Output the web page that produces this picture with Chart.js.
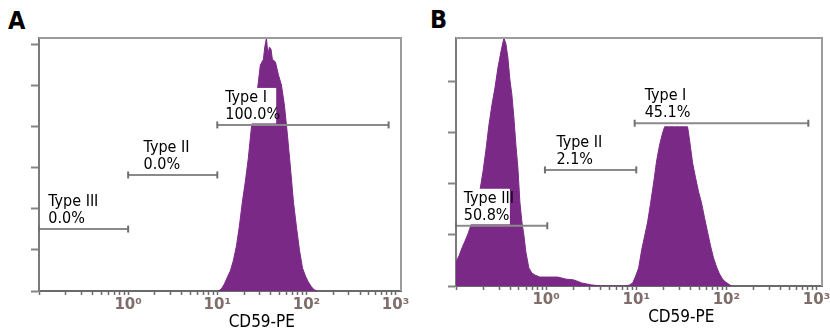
<!DOCTYPE html>
<html><head><meta charset="utf-8">
<script src="https://cdn.jsdelivr.net/npm/chart.js@4.4.1/dist/chart.umd.min.js"></script>
<style>
html,body{margin:0;padding:0;background:#fff;overflow:hidden;width:830px;height:333px;position:relative;}
canvas.panel{position:absolute;top:0;}
.letter{position:absolute;font:bold 25px "DejaVu Sans Condensed","DejaVu Sans",sans-serif;line-height:25px;color:#000;}
</style></head><body>
<div class="letter" style="left:8px;top:8px">A</div>
<div class="letter" style="left:430px;top:7px">B</div>
<canvas id="cA" class="panel" width="415" height="333" style="left:0"></canvas>
<canvas id="cB" class="panel" width="430" height="333" style="left:415px"></canvas>
<script>
// ---------- data ----------
const tickExps = [0, 1, 2, 3];
const tickLabels = ['10\u2070', '10\u00B9', '10\u00B2', '10\u00B3'];
const xTitle = 'CD59-PE';
const xTitleAt = 31.6;
const xMin = 0.1, xMax = 1150;
const gateNames = ['Type III', 'Type II', 'Type I'];

// Panel A histogram (CD59-PE intensity, counts)
const histAx = [10.3,11.1,12.0,13.0,14.0,15.1,16.4,17.7,19.1,20.6,22.3,24.1,26.1,28.2,30.4,32.9,34.1,35.6,37.0,38.4,40.0,41.5,44.9,48.5,52.4,56.6,61.2,66.2,71.5,77.3,83.5,90.3,97.5,105,114,123,133];
const histAy = [0,1.0,3.4,6.8,9.8,14.6,22.0,31.7,43.4,53.2,64.9,79.5,88.3,98.0,110.2,113,119,123.4,115,119,118,113,111.7,105.4,100.5,90.7,76.1,60.0,43.4,31.2,20.0,11.2,7.3,4.4,2.0,0.5,0];
const gateAstart = [0.1, 1, 10];
const gateAend = [1, 10, 835];
const gateAy = [30.2, 56.6, 81.0];
const pctA = ['0.0%', '0.0%', '100.0%'];
const labelAx = [0.127, 1.49, 12.3];
const yTicksA = [0, 20, 40, 60, 80, 100, 120];
const yMaxA = 123.4;

// Panel B histogram
const histBx = [0.1,0.108,0.1165,0.1258,0.1358,0.1466,0.1582,0.1709,0.1845,0.1991,0.2149,0.2320,0.2505,0.2704,0.2919,0.3151,0.3401,0.3579,0.3767,0.3964,0.4171,0.4389,0.4619,0.4860,0.5114,0.5382,0.5663,0.5959,0.643,0.694,0.7499,0.8515,1.044,1.348,1.653,2.027,2.485,3.206,4.139,5.77,7.45,8.46,9.13,9.85,10.63,11.48,12.39,13.37,14.43,15.58,16.82,18.15,19.59,20.63,23.44,26.63,30.26,34.38,37.10,38.99,42.15,45.50,49.12,53.02,57.23,61.77,66.68,71.97,77.69,83.86,90.52,97.71,105.5,113.8];
const histBy = [9.4,11.8,14.9,17.6,20.4,23.9,28.2,32.9,37.6,44.7,53.3,63.1,71.0,77.6,85.5,91.8,97.2,94.9,89.4,80.8,74.9,65.9,55.3,46.3,32.9,25.1,20.0,13.3,7.1,5.1,4.3,3.5,3.5,3.5,2.7,2.4,1.2,0.4,0,0,0,0.4,1.2,3.9,7.1,14.1,19.6,25.1,32.5,40.4,49.0,55.3,60.0,62.4,62.4,62.4,62.4,62.4,62.4,57.3,48.2,42.4,36.9,32.5,26.7,21.2,15.7,11.0,7.5,4.7,2.7,1.6,0.8,0];
const gateBstart = [0.1, 0.97, 9.6];
const gateBend = [1.03, 10, 811];
const gateBy = [23.6, 45.5, 63.8];
const pctB = ['50.8%', '2.1%', '45.1%'];
const labelBx = [0.122, 1.30, 12.4];
const yTicksB = [0, 20, 40, 60, 80];
const yMaxB = 97.2;

// ---------- styling ----------
const PURPLE = '#7b2987';
const TXT_FONT = '16px "DejaVu Sans Condensed", "DejaVu Sans", sans-serif';
const TITLE_FONT = '17px "DejaVu Sans Condensed", "DejaVu Sans", sans-serif';

const xTickValues = [];
for (let e = -1; e <= 2; e++) for (let m = 1; m <= 9; m++) xTickValues.push(+(m * Math.pow(10, e)).toPrecision(3));
xTickValues.push(1000);

const overlay = {
  id: 'overlay',
  afterDatasetsDraw(chart, args, o) {
    const xs = chart.scales.x, ys = chart.scales.y, ctx = chart.ctx;
    ctx.save();
    ctx.font = TXT_FONT;
    ctx.textAlign = 'left';
    ctx.textBaseline = 'alphabetic';
    o.labelX.forEach((lx, i) => {
      const px = xs.getPixelForValue(lx);
      const gy = ys.getPixelForValue(o.gateY[i]);
      const b2 = gy - 6, b1 = b2 - 17;
      const w = Math.max(ctx.measureText(gateNames[i]).width, ctx.measureText(o.pct[i]).width);
      const bx = xs.getPixelForValue(o.gateStart[i]) + 1.5;
      ctx.fillStyle = '#fff';
      ctx.fillRect(bx, b1 - 14, px + w - 4 - bx, (gy - 1.5) - (b1 - 14));
      ctx.fillStyle = '#000';
      ctx.fillText(gateNames[i], px, b1);
      ctx.fillText(o.pct[i], px, b2);
    });
    ctx.restore();
  },
  afterDraw(chart) {
    const a = chart.chartArea, ctx = chart.ctx, xs = chart.scales.x;
    ctx.save();
    ctx.strokeStyle = '#9c9c9c';
    ctx.lineWidth = 2;
    ctx.beginPath();
    ctx.moveTo(a.left, a.top); ctx.lineTo(a.right, a.top); ctx.lineTo(a.right, a.bottom);
    ctx.stroke();
    ctx.font = TITLE_FONT;
    ctx.fillStyle = '#000';
    ctx.textAlign = 'center';
    ctx.textBaseline = 'alphabetic';
    ctx.fillText(xTitle, xs.getPixelForValue(xTitleAt), a.bottom + 36);
    ctx.restore();
  }
};

function makeChart(id, p) {
  const datasets = [];
  p.gateStart.forEach((s, i) => {
    datasets.push({
      data: [{x: s, y: p.gateY[i]}, {x: p.gateEnd[i], y: p.gateY[i]}],
      borderColor: '#8a8a8a', borderWidth: 2, fill: false,
      pointStyle: 'line', pointRadius: 3.5, pointRotation: 90,
      pointBorderColor: '#707070', pointBorderWidth: 2,
      clip: false, order: 1
    });
  });
  datasets.push({
    data: p.hx.map((x, i) => ({x, y: p.hy[i]})),
    borderColor: PURPLE, backgroundColor: PURPLE, borderWidth: 1,
    fill: 'origin', pointRadius: 0, tension: 0, order: 10
  });
  return new Chart(document.getElementById(id), {
    type: 'line',
    data: {datasets},
    options: {
      responsive: false, animation: false, devicePixelRatio: 1,
      layout: {padding: p.padding},
      plugins: {legend: {display: false}, tooltip: {enabled: false}, overlay: p},
      scales: {
        x: {
          type: 'logarithmic', min: xMin, max: xMax,
          afterBuildTicks: s => { s.ticks = xTickValues.map(v => ({value: v})); },
          afterFit: s => { s.height = p.xHeight; },
          grid: {drawOnChartArea: false, drawTicks: true, tickLength: 4, tickWidth: 1.5, tickColor: '#6a6a6a'},
          border: {display: true, color: '#6a6a6a', width: 2},
          ticks: {
            autoSkip: false, maxRotation: 0, minRotation: 0, padding: 1,
            color: '#7f6d6a', font: {family: 'DejaVu Sans', size: 15, weight: 'bold'},
            callback: v => {
              const e = Math.log10(v), r = Math.round(e);
              if (Math.abs(e - r) > 1e-6) return '';
              const k = tickExps.indexOf(r);
              return k >= 0 ? tickLabels[k] : '';
            }
          }
        },
        y: {
          type: 'linear', min: 0, max: p.yMax,
          afterBuildTicks: s => { s.ticks = p.yTicks.map(v => ({value: v})); },
          afterFit: s => { s.width = 8; },
          grid: {drawOnChartArea: false, drawTicks: true, tickLength: 8, tickWidth: 2, tickColor: '#858585'},
          border: {display: true, color: '#7a7a7a', width: 2},
          ticks: {display: false}
        }
      }
    },
    plugins: [overlay]
  });
}

makeChart('cA', {
  hx: histAx, hy: histAy, gateStart: gateAstart, gateEnd: gateAend, gateY: gateAy,
  pct: pctA, labelX: labelAx, yTicks: yTicksA, yMax: yMaxA,
  padding: {left: 31, top: 38, right: 14, bottom: 0}, xHeight: 42
});
makeChart('cB', {
  hx: histBx, hy: histBy, gateStart: gateBstart, gateEnd: gateBend, gateY: gateBy,
  pct: pctB, labelX: labelBx, yTicks: yTicksB, yMax: yMaxB,
  padding: {left: 33, top: 38, right: 23, bottom: 0}, xHeight: 47
});
</script>
</body></html>
